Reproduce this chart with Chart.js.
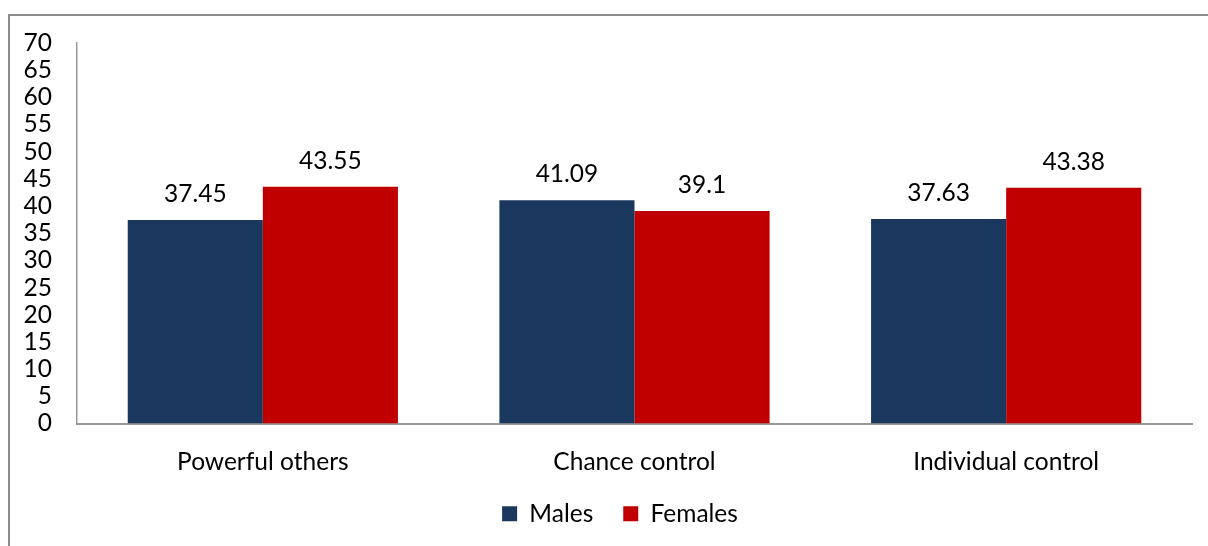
<!DOCTYPE html>
<html>
<head>
<meta charset="utf-8">
<script src="https://cdn.jsdelivr.net/npm/chart.js@4.4.0/dist/chart.umd.min.js"></script>
<style>
html,body{margin:0;padding:0;background:#fff;overflow:hidden;}
#wrap{position:absolute;left:0;top:0;width:1208px;height:546px;}
#frame{position:absolute;left:8px;top:14px;width:1300px;height:600px;border-left:2px solid #8c8c8c;border-top:2px solid #8c8c8c;box-sizing:border-box;}
canvas{position:absolute;left:0;top:0;}
</style>
</head>
<body>
<div id="wrap">
<div id="frame"></div>
<canvas id="c" width="1208" height="546"></canvas>
</div>
<script>
const categories = ["Powerful others", "Chance control", "Individual control"];
const males = [37.45, 41.09, 37.63];
const females = [43.55, 39.1, 43.38];
const maleLabels = ["37.45", "41.09", "37.63"];
const femaleLabels = ["43.55", "39.1", "43.38"];
const seriesNames = ["Males", "Females"];
const yTicks = [0,5,10,15,20,25,30,35,40,45,50,55,60,65,70];

const FONT = "Lato";
const FS = 24.5;

const valueLabels = {
  id: 'valueLabels',
  afterDatasetsDraw(chart) {
    const ctx = chart.ctx;
    ctx.save();
    ctx.font = FS + "px " + FONT;
    ctx.fillStyle = "#000";
    ctx.textAlign = "center";
    ctx.textBaseline = "alphabetic";
    const texts = [maleLabels, femaleLabels];
    chart.data.datasets.forEach((ds, di) => {
      chart.getDatasetMeta(di).data.forEach((bar, i) => {
        ctx.fillText(texts[di][i], bar.x, bar.y - 18);
      });
    });
    ctx.restore();
  }
};

const legendShift = {
  id: 'legendShift',
  afterLayout(chart) {
    if (chart.legend) {
      chart.legend.left += 24;
      chart.legend.right += 24;
    }
  }
};

new Chart(document.getElementById('c'), {
  type: 'bar',
  data: {
    labels: categories,
    datasets: [
      {label: seriesNames[0], data: males, backgroundColor: '#1a375e', borderWidth: 0},
      {label: seriesNames[1], data: females, backgroundColor: '#c00000', borderWidth: 0}
    ]
  },
  options: {
    responsive: false,
    animation: false,
    devicePixelRatio: 1,
    layout: {padding: {top: 43, left: 0, right: 16, bottom: 10}},
    datasets: {bar: {barPercentage: 1, categoryPercentage: 0.727}},
    plugins: {
      tooltip: {enabled: false},
      legend: {
        position: 'bottom',
        labels: {
          font: {family: FONT, size: FS},
          color: '#000',
          boxWidth: 15,
          boxHeight: 15,
          padding: 30
        }
      }
    },
    scales: {
      x: {
        afterFit(scale) { scale.height = 48; },
        grid: {display: false, drawTicks: false},
        border: {display: true, color: '#999', width: 2},
        ticks: {font: {family: FONT, size: FS}, color: '#000', padding: 24, autoSkip: false, maxRotation: 0}
      },
      y: {
        min: 0, max: 70,
        afterBuildTicks(scale) { scale.ticks = yTicks.map(v => ({value: v})); },
        afterFit(scale) { scale.width = 77; },
        grid: {display: false, drawTicks: false},
        border: {display: true, color: '#999', width: 1.5},
        ticks: {font: {family: FONT, size: FS}, color: '#000', padding: 25, stepSize: 5, autoSkip: false}
      }
    }
  },
  plugins: [valueLabels, legendShift]
});
</script>
</body>
</html>
